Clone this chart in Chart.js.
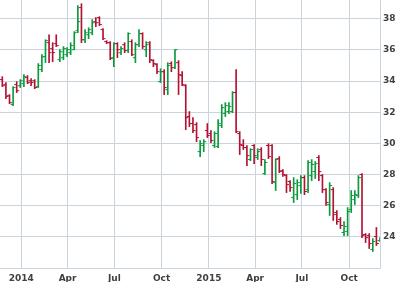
<!DOCTYPE html>
<html>
<head>
<meta charset="utf-8">
<script src="https://cdn.jsdelivr.net/npm/chart.js@4.4.1/dist/chart.umd.min.js"></script>
<style>
    html, body { margin: 0; padding: 0; background: #fff; }
    #wrap { width: 398px; height: 282px; }
</style>
</head>
<body>
<div id="wrap"><canvas id="ohlc" width="398" height="282"></canvas></div>
<script>
(() => {
    "use strict";
    // weekly bars, first week starts here
    const firstWeek = "2013-11-25";
    const open = [
        34.09, 33.77, 33.06, 32.49, 33.77, 33.70, 33.83, 34.22, 34.02, 34.02,
        33.64, 34.73, 35.56, 36.46, 36.08, 36.40, 35.37, 35.50, 35.69, 35.82,
        36.01, 37.23, 38.71, 36.65, 36.97, 37.10, 37.81, 38.07, 37.30, 36.53,
        36.46, 35.50, 36.40, 35.82, 36.33, 35.95, 36.53, 35.50, 36.33, 37.04,
        36.01, 36.46, 35.31, 35.05, 33.96, 34.60, 33.45, 35.12, 34.86, 35.18,
        34.35, 33.70, 31.72, 31.27, 31.20, 29.47, 29.86, 30.82, 30.63, 29.86,
        29.79, 31.14, 31.91, 32.04, 32.04, 33.26, 30.63, 29.86, 29.73, 28.96,
        29.86, 29.09, 29.60, 28.06, 29.86, 29.86, 27.48, 29.02, 28.25, 27.93,
        27.55, 26.52, 26.71, 27.29, 27.80, 27.03, 27.93, 28.19, 29.09, 27.93,
        27.03, 26.07, 27.03, 25.56, 25.11, 24.28, 24.34, 25.75, 26.39, 26.65,
        28.00, 24.15, 24.08, 23.19, 24.02, 23.76
    ];
    const high = [
        34.28, 33.90, 33.13, 33.64, 33.96, 34.09, 34.41, 34.35, 34.15, 34.09,
        35.12, 35.69, 36.65, 36.97, 36.46, 36.97, 36.01, 36.21, 36.14, 36.46,
        37.17, 38.84, 38.96, 37.30, 37.42, 37.94, 38.07, 38.13, 37.36, 36.59,
        36.53, 36.46, 36.46, 36.21, 36.46, 37.10, 36.65, 36.46, 37.30, 37.10,
        36.53, 36.53, 35.37, 35.12, 34.79, 34.73, 35.18, 35.24, 36.01, 35.31,
        34.60, 33.77, 32.04, 31.65, 31.33, 30.18, 30.24, 31.27, 30.82, 30.75,
        31.52, 32.49, 32.61, 32.61, 33.32, 34.73, 30.75, 30.24, 29.86, 29.66,
        29.92, 29.66, 29.73, 28.96, 29.98, 29.92, 29.02, 29.15, 28.32, 28.00,
        27.61, 27.80, 27.67, 27.93, 27.93, 28.89, 28.96, 28.83, 29.21, 28.00,
        27.10, 27.48, 27.16, 25.69, 25.24, 24.98, 25.88, 26.97, 26.97, 27.93,
        28.06, 24.21, 24.21, 23.89, 24.60, 23.95
    ];
    const low = [
        33.64, 32.87, 32.55, 32.42, 33.26, 33.58, 33.64, 33.83, 33.70, 33.51,
        33.58, 34.60, 35.18, 35.18, 35.24, 36.21, 35.24, 35.37, 35.56, 35.69,
        36.01, 37.10, 36.46, 36.46, 36.72, 36.97, 37.49, 37.55, 36.65, 36.40,
        35.37, 34.92, 35.50, 35.69, 35.82, 35.82, 35.63, 35.18, 36.21, 36.08,
        35.56, 35.18, 34.92, 34.47, 33.90, 33.13, 33.13, 34.60, 34.79, 33.13,
        33.70, 30.88, 31.07, 30.69, 30.11, 29.15, 29.47, 30.37, 30.05, 29.73,
        29.73, 31.01, 31.72, 31.91, 31.97, 30.69, 29.28, 29.60, 28.57, 28.89,
        28.70, 28.96, 28.57, 28.00, 29.02, 27.42, 26.97, 28.12, 27.87, 26.84,
        26.91, 26.20, 26.39, 26.78, 26.71, 26.84, 27.61, 27.74, 27.61, 26.84,
        26.01, 25.37, 25.05, 24.79, 24.53, 24.08, 24.08, 25.56, 26.07, 26.52,
        23.95, 23.63, 23.25, 23.06, 23.44, 23.70
    ];
    const close = [
        33.70, 33.00, 32.61, 33.58, 33.38, 34.02, 34.28, 33.90, 33.90, 33.58,
        34.99, 35.56, 36.59, 35.82, 35.82, 36.27, 35.88, 36.08, 36.01, 36.27,
        37.10, 37.81, 36.65, 37.10, 37.30, 37.74, 37.74, 37.62, 36.72, 36.46,
        35.44, 36.40, 36.01, 36.08, 35.95, 37.04, 35.69, 36.33, 37.04, 36.21,
        36.33, 35.37, 35.12, 34.60, 34.60, 33.58, 34.99, 34.86, 36.01, 34.41,
        33.77, 31.65, 31.27, 30.82, 30.37, 29.98, 30.11, 30.50, 30.18, 30.63,
        31.27, 32.29, 32.42, 32.36, 33.26, 30.75, 29.92, 29.73, 29.21, 29.60,
        29.21, 29.47, 28.96, 28.77, 29.15, 27.55, 28.96, 28.19, 28.00, 27.35,
        27.16, 27.42, 27.48, 27.80, 26.91, 28.77, 28.64, 28.70, 28.19, 27.03,
        26.20, 27.29, 25.43, 24.98, 24.73, 24.66, 25.62, 26.65, 26.71, 27.80,
        24.08, 23.95, 23.57, 23.70, 23.57, 23.89
    ];
    const tickDates = [ "2014-01-01", "2014-04-01", "2014-07-01", "2014-10-01", "2015-01-01", "2015-04-01", "2015-07-01", "2015-10-01" ];
    const tickLabels = [ "2014", "Apr", "Jul", "Oct", "2015", "Apr", "Jul", "Oct" ];
    const priceTicks = [ 24, 26, 28, 30, 32, 34, 36, 38 ];

    const epoch = Date.parse("2014-01-01");
    const toDay = s => (Date.parse(s) - epoch) / 864e5;
    const start = toDay(firstWeek);
    const weekDays = open.map((v, i) => start + 7 * i);

    const upColor = "#0a9a3c";
    const downColor = "#b31232";
    const colors = open.map((o, i) => close[i] >= o ? upColor : downColor);
    const gridColor = "#c9d4dd";
    const tickFont = {
        family: "'DejaVu Sans', Verdana, sans-serif",
        size: 9,
        weight: "bold"
    };

    // open tick on the left, close tick on the right
    const ohlcTicks = {
        id: "ohlcTicks",
        afterDatasetsDraw(chart) {
            const ctx = chart.ctx;
            const xs = chart.scales.x;
            const ys = chart.scales.y;
            const area = chart.chartArea;
            ctx.save();
            ctx.beginPath();
            ctx.rect(area.left, area.top, area.right - area.left, area.bottom - area.top);
            ctx.clip();
            ctx.lineWidth = 1;
            weekDays.forEach((d, i) => {
                const x = xs.getPixelForValue(d);
                const yo = ys.getPixelForValue(open[i]);
                const yc = ys.getPixelForValue(close[i]);
                ctx.strokeStyle = colors[i];
                ctx.beginPath();
                ctx.moveTo(x - 2.5, yo);
                ctx.lineTo(x, yo);
                ctx.moveTo(x, yc);
                ctx.lineTo(x + 2.5, yc);
                ctx.stroke();
            });
            ctx.restore();
        }
    };

    const data = {
        datasets: [ {
            label: "",
            data: weekDays.map((d, i) => ({ x: d, y: [ low[i], high[i] ] })),
            backgroundColor: colors,
            borderWidth: 0,
            barThickness: 1
        } ]
    };

    const config = {
        type: "bar",
        data,
        plugins: [ ohlcTicks ],
        options: {
            responsive: false,
            animation: false,
            layout: { padding: 0 },
            plugins: {
                legend: { display: false },
                tooltip: { enabled: false }
            },
            scales: {
                x: {
                    type: "linear",
                    min: -41.5,
                    max: 698,
                    offset: false,
                    afterBuildTicks: scale => {
                        scale.ticks = tickDates.map(d => ({ value: toDay(d) }));
                    },
                    afterFit: scale => {
                        scale.height = 14;
                        scale.paddingLeft = 0;
                        scale.paddingRight = 0;
                    },
                    grid: {
                        color: gridColor,
                        drawTicks: false,
                        offset: false
                    },
                    border: { color: gridColor },
                    ticks: {
                        autoSkip: false,
                        maxRotation: 0,
                        padding: 5,
                        color: "#404040",
                        font: tickFont,
                        callback: (value, index) => tickLabels[index]
                    }
                },
                y: {
                    position: "right",
                    min: 22,
                    max: 39.2,
                    afterBuildTicks: scale => {
                        scale.ticks = priceTicks.map(v => ({ value: v }));
                    },
                    afterFit: scale => {
                        scale.width = 18;
                        scale.paddingTop = 0;
                        scale.paddingBottom = 0;
                    },
                    grid: {
                        color: gridColor,
                        drawTicks: false
                    },
                    border: { color: gridColor },
                    ticks: {
                        padding: 3,
                        color: "#404040",
                        font: tickFont,
                        callback: value => String(value)
                    }
                }
            }
        }
    };

    new Chart(document.getElementById("ohlc"), config);
})();
</script>
</body>
</html>
